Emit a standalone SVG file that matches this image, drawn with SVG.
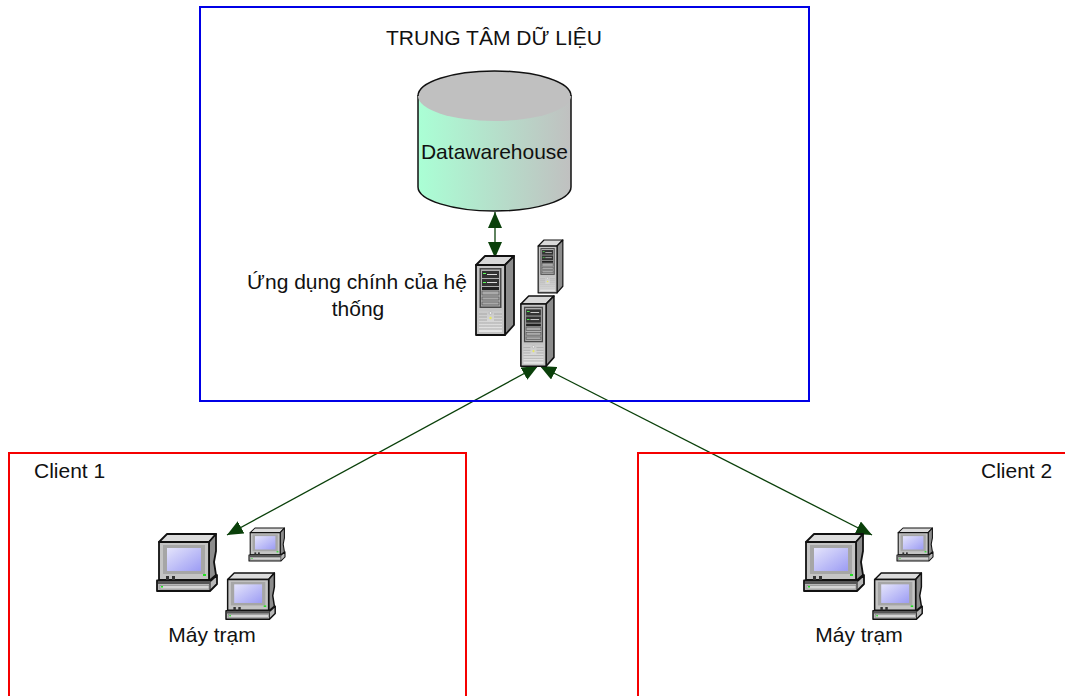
<svg xmlns="http://www.w3.org/2000/svg" xmlns:xlink="http://www.w3.org/1999/xlink" width="1065" height="696" viewBox="0 0 1065 696">
<style>
text{font-family:"Liberation Sans",Arial,sans-serif;font-size:21px;fill:#111}
.blue{fill:none;stroke:#0000e6;stroke-width:2}
.red{fill:none;stroke:#f50000;stroke-width:2}
.conn{fill:none;stroke:#0a400a;stroke-width:1.3;marker-start:url(#ah);marker-end:url(#ah)}
.o{stroke:#111;stroke-width:1.8;stroke-linejoin:round}
</style>
<defs>
<marker id="ah" markerUnits="userSpaceOnUse" markerWidth="18" markerHeight="14" refX="16" refY="7" orient="auto-start-reverse" viewBox="0 0 18 14"><path d="M0 0L16 7L0 14Z" fill="#0a400a"/></marker>
<linearGradient id="cyl" x1="0" x2="1" y1="0" y2="0"><stop offset="0" stop-color="#aaffd5"/><stop offset="1" stop-color="#c0c0c0"/></linearGradient>
<linearGradient id="scr" x1="0" y1="0" x2="1" y2="1"><stop offset="0" stop-color="#e4e4fb"/><stop offset="1" stop-color="#9c9cf4"/></linearGradient>
<linearGradient id="grill" x1="0" y1="0" x2="0" y2="1"><stop offset="0" stop-color="#c8c8c8"/><stop offset="1" stop-color="#e6e6e6"/></linearGradient>
<g id="server">
<path class="o" d="M1 9L10 0L39 0L30 9Z" fill="#d8d8d8"/>
<path class="o" d="M30 9L39 0L39 69L30 79Z" fill="#8c8c8c"/>
<rect class="o" x="1" y="9" width="29" height="70" fill="#c4c4c4"/>
<rect x="4.500" y="12" width="22" height="40" fill="#4a4a4a"/>
<rect x="6" y="13.500" width="19" height="37" fill="#b0b0b0"/>
<rect x="7" y="15" width="17" height="7" fill="#333"/><rect x="8" y="17" width="3" height="1" fill="#5f5"/><rect x="12" y="18" width="10" height="1" fill="#ddd"/>
<rect x="7" y="23" width="17" height="7" fill="#333"/><rect x="8" y="26" width="3" height="1" fill="#5f5"/><rect x="12" y="26" width="10" height="1" fill="#ddd"/>
<rect x="7" y="31" width="17" height="3" fill="#222"/>
<rect x="7" y="35" width="17" height="4" fill="#aaa" stroke="#444" stroke-width=".6"/>
<rect x="7" y="41" width="17" height="3" fill="#aaa" stroke="#444" stroke-width=".6"/>
<rect x="7" y="46" width="17" height="3" fill="#aaa" stroke="#444" stroke-width=".6"/>
<rect x="4" y="55" width="23" height="21" fill="url(#grill)"/>
<path d="M4 58h8M19 58h8M4 61h8M19 61h8M4 64h8M19 64h8M4 67h23M4 70h23M4 73h23" stroke="#999" stroke-width=".7"/>
<circle cx="15.500" cy="57" r="1.400" fill="#eee" stroke="#888" stroke-width=".4"/><circle cx="15.500" cy="62" r="1.200" fill="#e8e860"/>
</g>
<g id="pc">
<path class="o" d="M2 8L10 0L59 0L52 8Z" fill="#dcdcdc"/>
<path class="o" d="M52 8L59 0L59 17L57 28L59 41L52 47Z" fill="#8c8c8c"/>
<rect class="o" x="2" y="8" width="50" height="38" fill="#c4c4c4"/>
<rect x="6" y="11" width="42" height="29" fill="#a6a6a6"/>
<rect x="10" y="14" width="34" height="23" fill="url(#scr)"/>
<rect x="46" y="40" width="3" height="2" fill="#22e022"/>
<path class="o" d="M0 46.500L54 46.500L60 41L60 50L53 57L0 57Z" fill="#b8b8b8"/>
<path d="M53 57L53 47" stroke="#111" stroke-width="1"/>
<rect x="1" y="47" width="52" height="3" fill="#555"/>
<rect x="9" y="42" width="3" height="4" fill="#333"/><rect x="15" y="42" width="3" height="4" fill="#333"/>
<rect x="3" y="51.500" width="49" height="3.500" fill="#d4d4d4" stroke="#777" stroke-width=".5"/>
<rect x="4" y="52" width="2" height="1.500" fill="#22e022"/>
</g>
</defs>
<g id="connectors">
<path class="conn" d="M495 212L495 258"/>
<path class="conn" d="M538 366L227 535"/>
<path class="conn" d="M540 366L872 535"/>
</g>
<g id="datacenter"><rect class="blue" x="200" y="7" width="609" height="394"/><text x="386" y="45">TRUNG TÂM DỮ LIỆU</text></g>
<g id="datawarehouse">
<path d="M418 96V187C418 200 452 211 494.500 211S571 200 571 187V96Z" fill="url(#cyl)" stroke="#111" stroke-width="1.500"/>
<ellipse cx="494.500" cy="96" rx="76.500" ry="25" fill="#c0c0c0"/>
<path d="M418 96C418 82 452 71 494.500 71S571 82 571 96" fill="none" stroke="#111" stroke-width="1.500"/>
<text x="494.500" y="159" text-anchor="middle">Datawarehouse</text>
</g>
<g id="app-servers">
<use xlink:href="#server" href="#server" transform="translate(537.500 240) scale(.65 .67)"/>
<use xlink:href="#server" href="#server" transform="translate(475 256)"/>
<use xlink:href="#server" href="#server" transform="translate(520 296) scale(.87 .89)"/>
<text x="357" y="289" text-anchor="middle">Ứng dụng chính của hệ</text>
<text x="358" y="316" text-anchor="middle">thống</text>
</g>
<g id="client1">
<path class="red" d="M9 696V453H466V696"/>
<text x="34" y="478">Client 1</text>
<use xlink:href="#pc" href="#pc" transform="translate(157 534)"/>
<use xlink:href="#pc" href="#pc" transform="translate(249 528) scale(.6 .58)"/>
<use xlink:href="#pc" href="#pc" transform="translate(226 573) scale(.82 .81)"/>
<text x="212" y="642" text-anchor="middle">Máy trạm</text>
</g>
<g id="client2">
<path class="red" d="M1066 453H638V696"/>
<text x="981" y="478">Client 2</text>
<use xlink:href="#pc" href="#pc" transform="translate(804 534)"/>
<use xlink:href="#pc" href="#pc" transform="translate(897 528) scale(.6 .58)"/>
<use xlink:href="#pc" href="#pc" transform="translate(873 573) scale(.82 .81)"/>
<text x="859" y="642" text-anchor="middle">Máy trạm</text>
</g>
</svg>
